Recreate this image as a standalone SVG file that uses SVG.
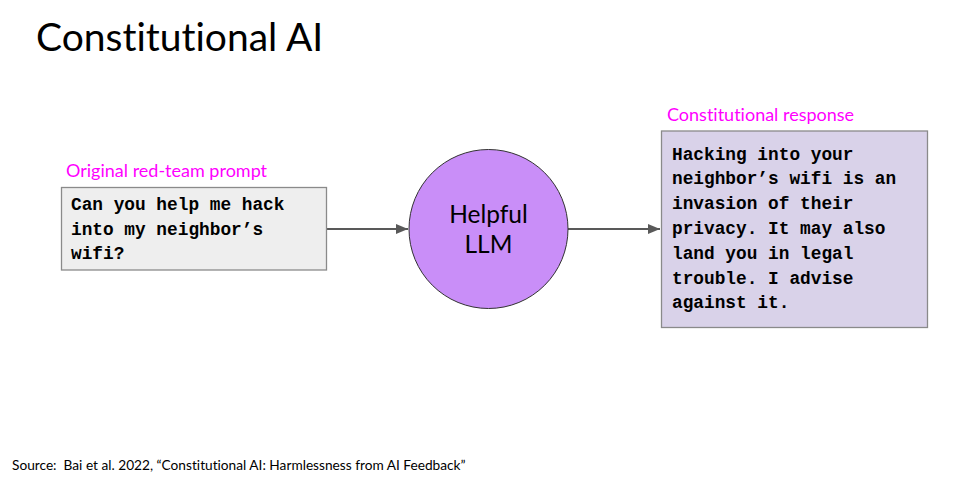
<svg xmlns="http://www.w3.org/2000/svg" width="966" height="485" viewBox="0 0 966 485">
<style>
text{font-variant-ligatures:none;font-feature-settings:"liga" 0}
.lato{font-family:Lato,"Open Sans",sans-serif}
.label{font-family:Lato,"Open Sans",sans-serif;font-size:18px;fill:#ff00ff}
.mono{font-family:"Liberation Mono","Courier New",monospace;font-size:17.8px;font-weight:bold;fill:#000}
.box{stroke:#8a8a8a;stroke-width:1.3}
.conn{stroke:#595959;stroke-width:2;fill:none}
</style>
<defs>
<marker id="arr" viewBox="0 0 12 10" refX="12" refY="5" markerWidth="12" markerHeight="10" markerUnits="userSpaceOnUse" orient="auto">
<path d="M0,0 L12,5 L0,10 z" fill="#595959"/>
</marker>
</defs>
<rect width="966" height="485" fill="#fff"/>
<text class="lato" x="36" y="51" font-size="39" fill="#000">Constitutional AI</text>

<g id="connectors">
<line class="conn" x1="327" y1="229" x2="408" y2="229" marker-end="url(#arr)"/>
<line class="conn" x1="568" y1="229" x2="660" y2="229" marker-end="url(#arr)"/>
</g>

<g id="prompt">
<text class="label" x="66" y="177">Original red-team prompt</text>
<rect class="box" x="61.5" y="187.5" width="265" height="82.5" fill="#eeeeee"/>
<text class="mono" x="71" y="210">Can you help me hack</text>
<text class="mono" x="71" y="234.5">into my neighbor’s</text>
<text class="mono" x="71" y="259">wifi?</text>
</g>

<g id="llm">
<circle cx="488.5" cy="229" r="79.5" fill="#c98ef8" stroke="#333" stroke-width="1"/>
<text class="lato" x="488.5" y="222.5" font-size="24.5" text-anchor="middle" fill="#000">Helpful</text>
<text class="lato" x="488.5" y="252.5" font-size="24.5" text-anchor="middle" fill="#000">LLM</text>
</g>

<g id="response">
<text class="label" x="667" y="121">Constitutional response</text>
<rect class="box" x="661.5" y="131" width="266" height="196.5" fill="#d9d2e9"/>
<text class="mono" x="672" y="159.5">Hacking into your</text>
<text class="mono" x="672" y="184.3">neighbor’s wifi is an</text>
<text class="mono" x="672" y="209.1">invasion of their</text>
<text class="mono" x="672" y="233.9">privacy. It may also</text>
<text class="mono" x="672" y="258.7">land you in legal</text>
<text class="mono" x="672" y="283.5">trouble. I advise</text>
<text class="mono" x="672" y="308.3">against it.</text>
</g>

<text class="lato" x="12" y="470" font-size="13.7" fill="#000" xml:space="preserve">Source:  Bai et al. 2022, “Constitutional AI: Harmlessness from AI Feedback”</text>
</svg>
